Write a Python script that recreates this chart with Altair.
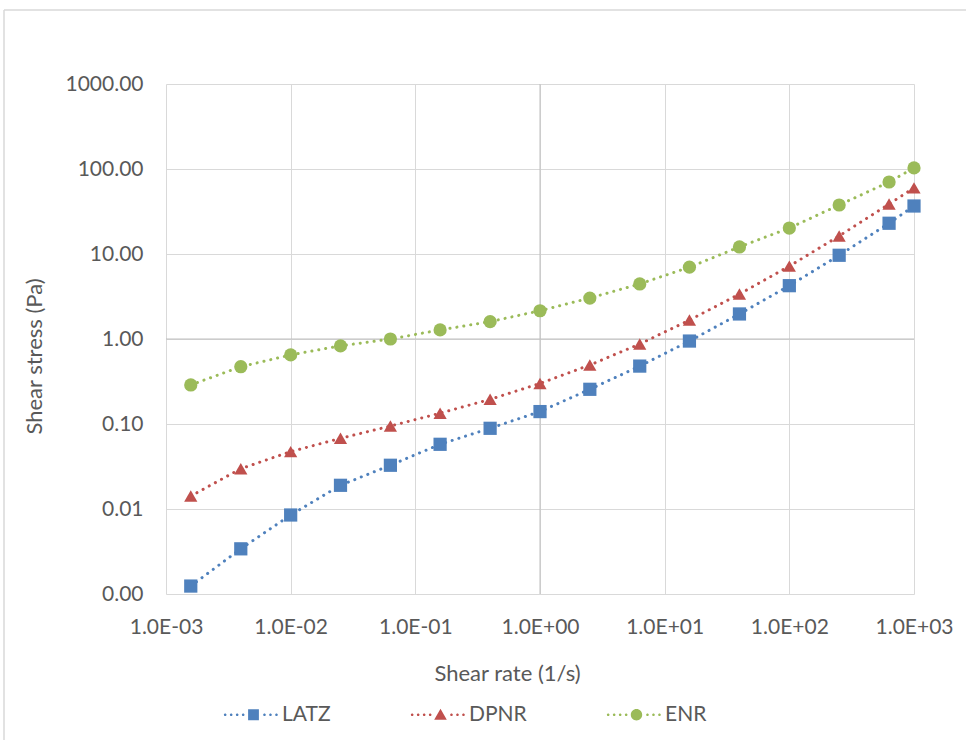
import altair as alt
import pandas as pd

# ---- data ----
shear_rate = [0.00158, 0.00398, 0.01, 0.0251, 0.0631, 0.158, 0.398, 1.0,
              2.51, 6.31, 15.8, 39.8, 100.0, 251.0, 631.0, 1000.0]
latz = [0.00124, 0.0034, 0.0085, 0.019, 0.0327, 0.0577, 0.089, 0.14,
        0.256, 0.48, 0.946, 1.97, 4.24, 9.66, 23.0, 36.7]
dpnr = [0.0142, 0.0298, 0.0473, 0.0678, 0.0946, 0.134, 0.195, 0.30,
        0.494, 0.873, 1.67, 3.38, 7.2, 16.3, 38.7, 60.0]
enr = [0.288, 0.472, 0.65, 0.83, 1.0, 1.28, 1.6, 2.15,
       3.03, 4.44, 7.0, 12.1, 20.2, 37.7, 70.3, 103.0]

series_names = ["LATZ", "DPNR", "ENR"]
series_values = [latz, dpnr, enr]
series_colors = ["#4F81BD", "#C0504D", "#9BBB59"]
marker_shapes = ["square", "triangle-up", "circle"]
x_ticks = [0.001, 0.01, 0.1, 1, 10, 100, 1000]
y_ticks = [0.001, 0.01, 0.1, 1, 10, 100, 1000]
axis_cross = [1]

# legend symbol glyphs: a dotted line with the series marker in the middle
legend_dot_offsets = [-4.72, -3.72, -2.72, -1.72, 1.83, 2.83, 3.83]
legend_markers = [
    "M-0.9,-0.9H0.9V0.9H-0.9Z",
    "M0,-1.0L1.05,0.85H-1.05Z",
    "M-0.95,0A0.95,0.95 0 1,0 0.95,0A0.95,0.95 0 1,0 -0.95,0Z",
]


def dotted(marker):
    r = 0.22
    dots = "".join(
        "M%.2f,0A%.2f,%.2f 0 1,0 %.2f,0A%.2f,%.2f 0 1,0 %.2f,0Z"
        % (c - r, r, r, c + r, r, r, c - r)
        for c in legend_dot_offsets
    )
    return dots + marker


legend_paths = [dotted(m) for m in legend_markers]

rows = []
for name, vals in zip(series_names, series_values):
    for xv, yv in zip(shear_rate, vals):
        rows.append({"series": name, "rate": xv, "stress": yv})
df = pd.DataFrame(rows)

FONT = "Lato"
TXT = "#595959"
GRID = "#D9D9D9"
FS = 21
TFS = 22

x_scale = alt.Scale(type="log", domain=[0.001, 1000], nice=False)
y_scale = alt.Scale(type="log", domain=[0.001, 1000], nice=False)
color_scale = alt.Scale(domain=series_names, range=series_colors)

exp_expr = "round(log(datum.value)/LN10)"
x_label_expr = ("'1.0E' + (" + exp_expr + " < 0 ? '-' : '+') + (abs(" + exp_expr +
                ") < 10 ? '0' : '') + abs(" + exp_expr + ")")

x_axis = alt.Axis(
    values=x_ticks, labelExpr=x_label_expr, title="Shear rate (1/s)",
    grid=True, gridColor=GRID, gridWidth=1, domain=False, ticks=False,
    labelFlush=False, labelOverlap=False,
    labelPadding=22, labelFont=FONT, labelFontSize=FS, labelColor=TXT,
    titleFont=FONT, titleFontSize=TFS, titleColor=TXT, titleFontWeight="normal",
    titleX=341, titleY=86, titleBaseline="alphabetic",
)
y_axis = alt.Axis(
    values=y_ticks, format=".2f", title="Shear stress (Pa)",
    grid=True, gridColor=GRID, gridWidth=1, domain=False, ticks=False,
    labelFlush=False, labelOverlap=False,
    labelPadding=23, labelFont=FONT, labelFontSize=FS, labelColor=TXT,
    titleFont=FONT, titleFontSize=TFS, titleColor=TXT, titleFontWeight="normal",
    titleX=-125, titleY=272, titleBaseline="alphabetic", titleAngle=-90,
)

X = alt.X("rate:Q", scale=x_scale, axis=x_axis)
Y = alt.Y("stress:Q", scale=y_scale, axis=y_axis)
Xn = alt.X("rate:Q", scale=x_scale)
Yn = alt.Y("stress:Q", scale=y_scale)

base = alt.Chart(df)

leg = alt.Legend(
    title=None, orient="none", legendX=77, legendY=620, direction="horizontal",
    padding=0, symbolSize=144, symbolStrokeWidth=0,
    symbolOpacity=1, labelFont=FONT, labelFontSize=FS, labelColor=TXT,
    labelOffset=18, columnPadding=79, columns=3,
)
legend_layer = base.mark_point(filled=True, opacity=0, size=144, strokeWidth=0).encode(
    x=X, y=Y,
    color=alt.Color("series:N", scale=color_scale, legend=leg),
    shape=alt.Shape("series:N", scale=alt.Scale(domain=series_names, range=legend_paths), legend=leg),
)

cross_df = pd.DataFrame({"v": axis_cross})
vcross = alt.Chart(cross_df).mark_rule(color="#BFBFBF", strokeWidth=1).encode(
    x=alt.X("v:Q", scale=x_scale))
hcross = alt.Chart(cross_df).mark_rule(color="#BFBFBF", strokeWidth=1).encode(
    y=alt.Y("v:Q", scale=y_scale))

lines = base.mark_line(strokeDash=[0.1, 6.9], strokeCap="round", strokeWidth=3).encode(
    x=Xn, y=Yn, color=alt.Color("series:N", scale=color_scale))

point_layers = []
for name, shp in zip(series_names, marker_shapes):
    point_layers.append(
        base.transform_filter(alt.datum.series == name)
        .mark_point(shape=shp, filled=True, size=175, opacity=1)
        .encode(x=Xn, y=Yn, color=alt.Color("series:N", scale=color_scale))
    )

frame_df = pd.DataFrame({"k": [0]})
frame_v = alt.Chart(frame_df).mark_rule(color="#D9D9D9", strokeWidth=1.5).encode(
    x=alt.value(-162), y=alt.value(-74), y2=alt.value(700))
frame_h = alt.Chart(frame_df).mark_rule(color="#D9D9D9", strokeWidth=1.5).encode(
    x=alt.value(-162), x2=alt.value(900), y=alt.value(-74))

chart = alt.layer(
    legend_layer, frame_v, frame_h, vcross, hcross, lines, *point_layers
).properties(
    width=748, height=510,
    padding={"left": 166, "top": 84, "right": 52, "bottom": 146},
    autosize=alt.AutoSizeParams(type="none"),
    background="white",
).configure_view(stroke=None)

chart.save("out.html", embed_options={"renderer": "svg", "actions": False})
